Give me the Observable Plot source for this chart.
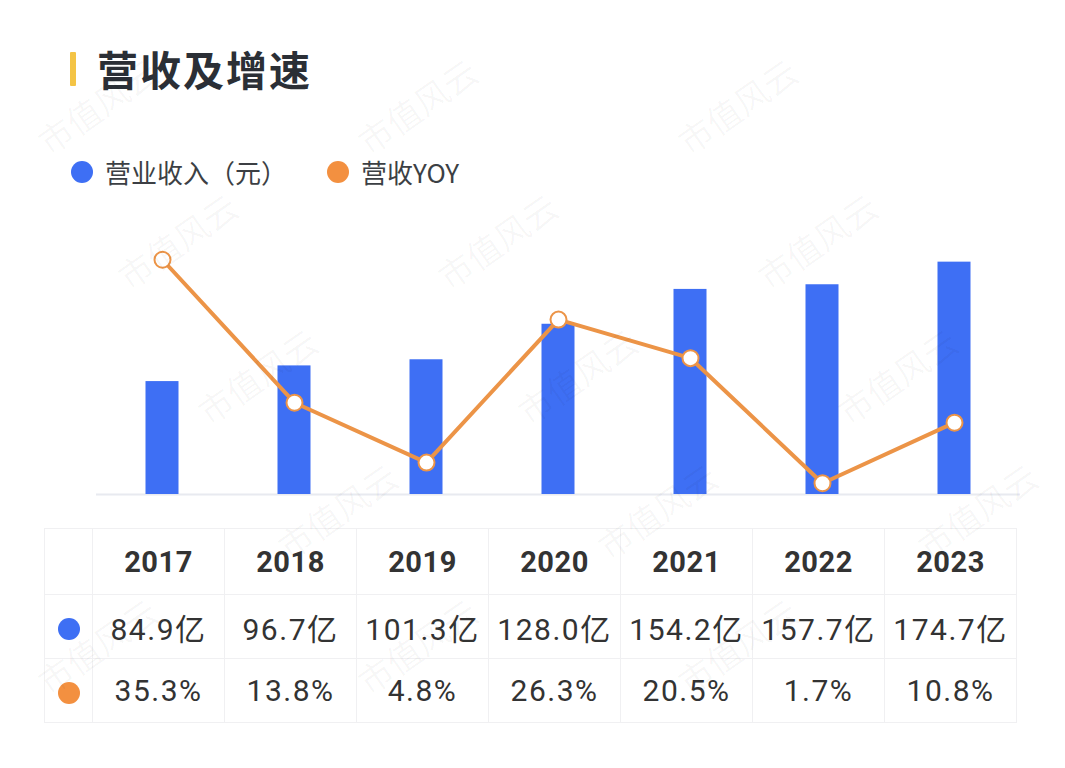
<!DOCTYPE html>
<html>
<head>
<meta charset="utf-8">
<script src="https://cdn.jsdelivr.net/npm/d3@7"></script>
<script src="https://cdn.jsdelivr.net/npm/@observablehq/plot@0.6"></script>
<style>
  html, body { margin: 0; padding: 0; background: #fff; }
  body { width: 1065px; height: 768px; position: relative; overflow: hidden;
         font-family: "Noto Sans CJK SC", "Noto Sans", Roboto, sans-serif; color: #333; }
  .title { position: absolute; left: 97px; top: 40px; font-size: 41px; font-weight: 700;
           color: #2b2f36; line-height: 56px; letter-spacing: 2px; }
  .title-bar { position: absolute; left: 70px; top: 52px; width: 6px; height: 34px; background: #f4c445; border-radius: 1px; }
  .legend { position: absolute; top: 154px; left: 71px; display: flex; align-items: center;
            font-size: 26px; color: #3c3f44; line-height: 36px; }
  .legend .item { display: flex; align-items: center; margin-right: 40px; }
  .dot { width: 22px; height: 22px; border-radius: 50%; display: inline-block; margin-right: 12px; }
  #chart { position: absolute; left: 0; top: 0; }
  table { position: absolute; left: 44px; top: 528px; border-collapse: collapse;
          border: 1px solid #f0f0f2; table-layout: fixed; }
  td { border: 1px solid #f0f0f2; text-align: center; padding: 0; font-size: 30px;
       font-family: Roboto, "Noto Sans CJK SC", sans-serif; color: #333; letter-spacing: 1.5px; }
  tr.head td { height: 65px; font-weight: 700; font-size: 29px; letter-spacing: 0.5px; }
  tr.val td { height: 63px; }
  td.first { width: 47px; letter-spacing: 0; }
  td.col { width: 131px; }
  #wm { position: absolute; left: 0; top: 0; pointer-events: none; }
</style>
</head>
<body>
<div class="title-bar"></div>
<div class="title">营收及增速</div>
<div id="chart"></div>
<div class="legend" id="legend"></div>
<table id="tbl"></table>
<svg id="wm" width="1065" height="768"></svg>
<script>
// Yearly revenue (亿元) and year-over-year growth (%)
const years = ["2017", "2018", "2019", "2020", "2021", "2022", "2023"];
const revenue = [84.9, 96.7, 101.3, 128.0, 154.2, 157.7, 174.7];
const yoy = [35.3, 13.8, 4.8, 26.3, 20.5, 1.7, 10.8];
const seriesNames = ["营业收入（元）", "营收YOY"];
const seriesColors = ["#3e6ff4", "#f39040"];
const lineColor = "#ec9447";

const rows = years.map((year, i) => ({year, revenue: revenue[i], yoy: yoy[i]}));

// Growth shares the revenue axis: 1 percentage point is drawn as 5 units of revenue
const yoyScale = 5;

const chart = Plot.plot({
  width: 1065,
  height: 510,
  marginLeft: 96,
  marginRight: 45,
  marginTop: 254.6,
  marginBottom: 16,
  style: {background: "transparent"},
  x: {domain: years, padding: 0, axis: null},
  y: {domain: [0, 180], axis: null},
  marks: [
    Plot.ruleY([0], {stroke: "#e8eaf0", strokeWidth: 2}),
    Plot.barY(rows, {x: "year", y: "revenue", fill: seriesColors[0], insetLeft: 49.5, insetRight: 49.5}),
    Plot.line(rows, {x: "year", y: d => d.yoy * yoyScale, stroke: lineColor, strokeWidth: 4, curve: "linear"}),
    Plot.dot(rows, {x: "year", y: d => d.yoy * yoyScale, r: 8, fill: "#fff", stroke: lineColor, strokeWidth: 2})
  ]
});
document.getElementById("chart").appendChild(chart);

// Legend
const legend = d3.select("#legend");
seriesNames.forEach((name, i) => {
  const item = legend.append("div").attr("class", "item");
  item.append("span").attr("class", "dot").style("background", seriesColors[i]);
  item.append("span").text(name);
});

// Data table under the chart
const tbl = d3.select("#tbl");
const head = tbl.append("tr").attr("class", "head");
head.append("td").attr("class", "first");
years.forEach(y => head.append("td").attr("class", "col").text(y));

const revRow = tbl.append("tr").attr("class", "val");
revRow.append("td").attr("class", "first")
  .append("span").attr("class", "dot").style("background", seriesColors[0]).style("margin", "0").style("vertical-align", "middle");
revenue.forEach(v => revRow.append("td").attr("class", "col").text(v.toFixed(1) + "亿"));

const yoyRow = tbl.append("tr").attr("class", "val");
yoyRow.append("td").attr("class", "first")
  .append("span").attr("class", "dot").style("background", seriesColors[1]).style("margin", "0").style("vertical-align", "middle");
yoy.forEach(v => yoyRow.append("td").attr("class", "col").text(v.toFixed(1) + "%"));

// Faint repeating watermark, kept clear of the page edges
const wm = d3.select("#wm");
for (let r = -1; r < 7; r++) {
  for (let c = -1; c < 5; c++) {
    const x = 100 + c * 320 + r * 80;
    const y = 110 + r * 135;
    if (x < 70 || x > 995 || y < 60 || y > 715) continue;
    wm.append("text")
      .attr("transform", `translate(${x},${y}) rotate(-35)`)
      .attr("text-anchor", "middle")
      .attr("dominant-baseline", "middle")
      .attr("font-size", 34)
      .attr("font-family", "Noto Sans CJK SC")
      .attr("fill", "#000")
      .attr("fill-opacity", 0.035)
      .text("市值风云");
  }
}
</script>
</body>
</html>
